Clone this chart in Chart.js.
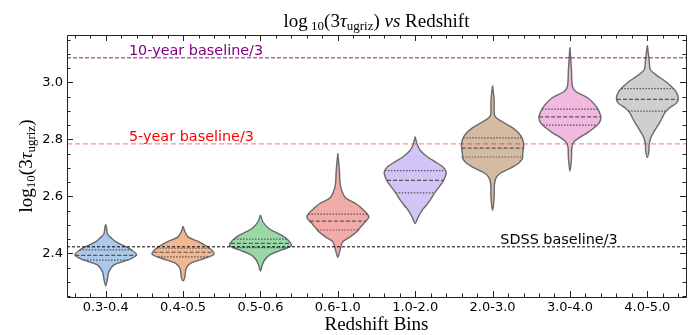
<!DOCTYPE html>
<html>
<head>
<meta charset="utf-8">
<script src="https://cdn.jsdelivr.net/npm/chart.js@4.4.1/dist/chart.umd.min.js"></script>
<style>
  body { margin: 0; background: #fff; }
</style>
</head>
<body>
<canvas id="violinChart" width="696" height="335"></canvas>
<script>
// Redshift bins
const bins = ['0.3-0.4', '0.4-0.5', '0.5-0.6', '0.6-1.0', '1.0-2.0', '2.0-3.0', '3.0-4.0', '4.0-5.0']

// violin outlines: log10(3 tau) levels, top -> bottom, and relative density (1 = widest)
const violinLevels = [
  [2.502, 2.489, 2.468, 2.453, 2.441, 2.429, 2.412, 2.394, 2.376, 2.359, 2.335, 2.312, 2.286],
  [2.495, 2.476, 2.458, 2.441, 2.418, 2.397, 2.382, 2.365, 2.347, 2.313, 2.304],
  [2.535, 2.511, 2.488, 2.476, 2.464, 2.447, 2.427, 2.412, 2.394, 2.376, 2.359, 2.338],
  [2.751, 2.692, 2.640, 2.611, 2.593, 2.575, 2.558, 2.540, 2.526, 2.511, 2.493, 2.476, 2.458, 2.441, 2.423, 2.406, 2.386],
  [2.809, 2.780, 2.762, 2.739, 2.721, 2.704, 2.686, 2.669, 2.651, 2.634, 2.616, 2.593, 2.569, 2.552, 2.534, 2.523, 2.505],
  [2.989, 2.938, 2.886, 2.875, 2.857, 2.840, 2.822, 2.805, 2.787, 2.770, 2.746, 2.734, 2.717, 2.699, 2.682, 2.664, 2.641, 2.594, 2.550],
  [3.123, 3.043, 2.986, 2.968, 2.945, 2.921, 2.898, 2.877, 2.857, 2.840, 2.822, 2.805, 2.791, 2.770, 2.734, 2.688],
  [3.130, 3.078, 3.044, 3.021, 3.004, 2.986, 2.968, 2.945, 2.927, 2.910, 2.892, 2.875, 2.857, 2.840, 2.822, 2.805, 2.781, 2.758, 2.737]
]
const violinDensity = [
  [0, 0.03, 0.06, 0.19, 0.32, 0.54, 0.84, 1.0, 0.70, 0.26, 0.10, 0.06, 0],
  [0, 0.06, 0.16, 0.50, 0.86, 1.0, 0.68, 0.24, 0.10, 0.05, 0],
  [0, 0.08, 0.26, 0.45, 0.68, 0.89, 1.0, 0.68, 0.29, 0.13, 0.06, 0],
  [0, 0.05, 0.08, 0.16, 0.27, 0.58, 0.77, 0.94, 1.0, 0.89, 0.74, 0.61, 0.40, 0.16, 0.10, 0.06, 0],
  [0, 0.07, 0.16, 0.39, 0.65, 0.89, 1.0, 0.97, 0.89, 0.78, 0.65, 0.52, 0.36, 0.23, 0.13, 0.08, 0],
  [0, 0.05, 0.06, 0.13, 0.39, 0.65, 0.84, 0.95, 1.0, 1.0, 0.97, 0.97, 0.85, 0.58, 0.26, 0.11, 0.06, 0.05, 0],
  [0, 0.05, 0.08, 0.19, 0.58, 0.81, 0.94, 1.0, 0.94, 0.77, 0.55, 0.29, 0.13, 0.06, 0.05, 0],
  [0, 0.06, 0.10, 0.35, 0.58, 0.77, 0.92, 1.0, 0.94, 0.71, 0.56, 0.48, 0.39, 0.29, 0.19, 0.11, 0.06, 0.05, 0]
]

// quartiles
const upperQuartiles = [2.412, 2.418, 2.450, 2.538, 2.690, 2.805, 2.906, 2.978]
const medians = [2.393, 2.404, 2.435, 2.513, 2.656, 2.769, 2.879, 2.940]
const lowerQuartiles = [2.376, 2.388, 2.420, 2.482, 2.612, 2.738, 2.850, 2.899]

// survey baselines / 3
const baselineNames = ['10-year baseline/3', '5-year baseline/3', 'SDSS baseline/3']
const baselineValues = [3.086, 2.784, 2.423]
const baselineLabelX = [0.3, 0.3, 5.1]

const yTicks = [2.4, 2.6, 2.8, 3.0]

// styles
const violinColors = ['#abc9ea', '#efb792', '#98daa7', '#f3aba8', '#d3c4f7', '#d6bba3', '#f1b9e0', '#cfcfcf']
const outlineColor = '#6a6a6a'
const baselineLineColors = ['rgba(128,0,128,0.6)', 'rgba(255,0,0,0.45)', '#000']
const baselineTextColors = ['#800080', '#ff0000', '#000']
const baselineDash = [[4, 2], [5, 3], [3, 2]]
const violinWidth = 0.8
const serif = '"Liberation Serif", "DejaVu Serif", serif'
const sans = '"DejaVu Sans", sans-serif'

function halfWidthAt(i, v) {
    const lv = violinLevels[i], dn = violinDensity[i]
    for (let k = 0; k < lv.length - 1; k++) {
        if (v <= lv[k] && v >= lv[k + 1]) {
            const t = (lv[k] - v) / (lv[k] - lv[k + 1])
            return (dn[k] + t * (dn[k + 1] - dn[k])) * violinWidth / 2
        }
    }
    return 0
}

function buildDatasets() {
    const sets = []
    baselineValues.forEach((v, i) => {
        sets.push({
            data: [{x: -0.5, y: v}, {x: 7.5, y: v}],
            borderColor: baselineLineColors[i],
            borderWidth: i === 2 ? 1 : 1.4,
            borderDash: baselineDash[i],
            pointRadius: 0,
            fill: false,
            order: 0
        })
    })
    bins.forEach((b, i) => {
        const quarts = [[upperQuartiles[i], [1.5, 1.5]], [medians[i], [4, 2]], [lowerQuartiles[i], [1.5, 1.5]]]
        quarts.forEach(([q, dash]) => {
            const hw = halfWidthAt(i, q)
            sets.push({
                data: [{x: i - hw, y: q}, {x: i + hw, y: q}],
                borderColor: '#555',
                borderWidth: 1.2,
                borderDash: dash,
                pointRadius: 0,
                fill: false,
                order: 1
            })
        })
    })
    bins.forEach((b, i) => {
        const lv = violinLevels[i], dn = violinDensity[i]
        const pts = []
        for (let k = 0; k < lv.length; k++) pts.push({x: i + dn[k] * violinWidth / 2, y: lv[k]})
        for (let k = lv.length - 2; k >= 0; k--) pts.push({x: i - dn[k] * violinWidth / 2, y: lv[k]})
        sets.push({
            data: pts,
            backgroundColor: violinColors[i],
            borderColor: outlineColor,
            borderWidth: 1.4,
            fill: 'shape',
            tension: 0.3,
            pointRadius: 0,
            order: 2
        })
    })
    return sets
}

function drawRich(ctx, parts, x, y) {
    let w = 0
    parts.forEach(p => { ctx.font = p.font; w += ctx.measureText(p.text).width })
    let cx = x - w / 2
    parts.forEach(p => {
        ctx.font = p.font
        ctx.fillText(p.text, cx, y + (p.dy || 0))
        cx += ctx.measureText(p.text).width
    })
}

const framePlugin = {
    id: 'frame',
    afterDatasetsDraw(chart) {
        const ctx = chart.ctx
        const xs = chart.scales.x, ys = chart.scales.y
        ctx.save()
        ctx.font = '14.4px ' + sans
        ctx.textBaseline = 'alphabetic'
        ctx.textAlign = 'left'
        baselineNames.forEach((name, i) => {
            ctx.fillStyle = baselineTextColors[i]
            ctx.fillText(name, xs.getPixelForValue(baselineLabelX[i]), ys.getPixelForValue(baselineValues[i]) - 3)
        })
        ctx.restore()
    },
    afterDraw(chart) {
        const ctx = chart.ctx
        const {left, right, top, bottom} = chart.chartArea
        const xs = chart.scales.x, ys = chart.scales.y
        ctx.save()
        ctx.strokeStyle = '#222'
        ctx.lineWidth = 1
        ctx.beginPath()
        ctx.rect(Math.round(left) + 0.5, Math.round(top) + 0.5, Math.round(right - left), Math.round(bottom - top))
        // x ticks, inward, top and bottom
        for (let k = -2; k <= 37; k++) {
            const v = k * 0.2
            const major = k % 5 === 0
            const len = major ? 6 : 3.5
            const px = Math.round(xs.getPixelForValue(v)) + 0.5
            ctx.moveTo(px, bottom); ctx.lineTo(px, bottom - len)
            ctx.moveTo(px, top); ctx.lineTo(px, top + len)
        }
        // y ticks, inward, left and right
        for (let k = 45; k <= 63; k++) {
            const v = k * 0.05
            const major = k % 4 === 0
            const len = major ? 6 : 3.5
            const py = Math.round(ys.getPixelForValue(v)) + 0.5
            ctx.moveTo(left, py); ctx.lineTo(left + len, py)
            ctx.moveTo(right, py); ctx.lineTo(right - len, py)
        }
        ctx.stroke()

        ctx.fillStyle = '#000'
        ctx.textBaseline = 'alphabetic'
        const big = '19px ' + serif, small = '13px ' + serif, ital = 'italic 19px ' + serif
        const cx = (left + right) / 2
        drawRich(ctx, [
            {text: 'log', font: big}, {text: ' 10', font: small, dy: 3}, {text: '(3', font: big},
            {text: 'τ', font: ital}, {text: 'ugriz', font: small, dy: 3}, {text: ')', font: big},
            {text: ' vs', font: ital}, {text: ' Redshift', font: big}
        ], cx, 27)
        drawRich(ctx, [{text: 'Redshift Bins', font: big}], cx, 330)
        ctx.translate(32, (top + bottom) / 2)
        ctx.rotate(-Math.PI / 2)
        drawRich(ctx, [
            {text: 'log', font: big}, {text: '10', font: small, dy: 3}, {text: '(3', font: big},
            {text: 'τ', font: ital}, {text: 'ugriz', font: small, dy: 3}, {text: ')', font: big}
        ], 0, 0)
        ctx.restore()
    }
}

new Chart(document.getElementById('violinChart'), {
    type: 'line',
    data: { datasets: buildDatasets() },
    options: {
        responsive: false,
        animation: false,
        layout: { padding: { top: 35, right: 10, left: 0, bottom: 0 } },
        plugins: { legend: { display: false }, tooltip: { enabled: false } },
        scales: {
            x: {
                type: 'linear',
                min: -0.5,
                max: 7.5,
                grid: { display: false, drawTicks: false },
                border: { display: false },
                afterBuildTicks: s => { s.ticks = bins.map((b, i) => ({value: i})) },
                afterFit: s => { s.height = 38 },
                ticks: {
                    callback: v => bins[v],
                    color: '#000',
                    padding: 3,
                    maxRotation: 0,
                    autoSkip: false,
                    font: { family: 'DejaVu Sans', size: 13 }
                }
            },
            y: {
                min: 2.247,
                max: 3.166,
                grid: { display: false, drawTicks: false },
                border: { display: false },
                afterBuildTicks: s => { s.ticks = yTicks.map(v => ({value: v})) },
                afterFit: s => { s.width = 67 },
                ticks: {
                    callback: v => v.toFixed(1),
                    color: '#000',
                    padding: 4,
                    font: { family: 'DejaVu Sans', size: 13 }
                }
            }
        }
    },
    plugins: [framePlugin]
})
</script>
</body>
</html>
